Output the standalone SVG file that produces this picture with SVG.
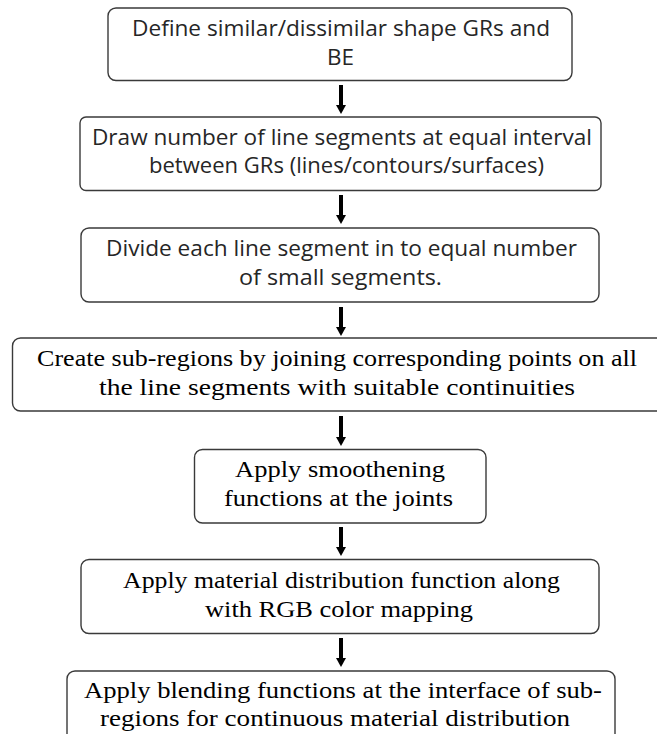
<svg xmlns="http://www.w3.org/2000/svg" width="657" height="734" viewBox="0 0 657 734">
<defs>
<style>
.box{fill:#fff;stroke:#3a3a3a;stroke-width:1.4}
.s{font-family:"Open Sans","DejaVu Sans",sans-serif;font-size:21px;fill:#262626}
.r{font-family:"Liberation Serif","Times New Roman",serif;font-size:23px;fill:#000}
.arr{stroke:#000;stroke-width:4}
.head{fill:#000}
</style>
</defs>
<rect width="657" height="734" fill="#fff"/>
<g id="connectors">
<line class="arr" x1="341" y1="85" x2="341" y2="106"/><polygon class="head" points="336,105 346,105 341,114"/>
<line class="arr" x1="341" y1="195" x2="341" y2="216"/><polygon class="head" points="336,215 346,215 341,224"/>
<line class="arr" x1="341" y1="307" x2="341" y2="328"/><polygon class="head" points="336,327 346,327 341,336"/>
<line class="arr" x1="341" y1="416" x2="341" y2="438"/><polygon class="head" points="336,437 346,437 341,446"/>
<line class="arr" x1="341" y1="527" x2="341" y2="548"/><polygon class="head" points="336,547 346,547 341,556"/>
<line class="arr" x1="341" y1="638" x2="341" y2="659"/><polygon class="head" points="336,658 346,658 341,667"/>
</g>
<g id="n1">
<rect class="box" x="108" y="8" width="464" height="72.5" rx="8"/>
<text class="s" x="132" y="36" textLength="418" lengthAdjust="spacingAndGlyphs">Define similar/dissimilar shape GRs and</text>
<text class="s" x="327" y="65" textLength="27" lengthAdjust="spacingAndGlyphs">BE</text>
</g>
<g id="n2">
<rect class="box" x="80" y="117" width="521" height="73.5" rx="6"/>
<text class="s" x="92" y="145" textLength="500" lengthAdjust="spacingAndGlyphs">Draw number of line segments at equal interval</text>
<text class="s" x="149" y="173" textLength="395" lengthAdjust="spacingAndGlyphs">between GRs (lines/contours/surfaces)</text>
</g>
<g id="n3">
<rect class="box" x="81" y="228" width="518" height="74" rx="8"/>
<text class="s" x="106" y="256" textLength="471" lengthAdjust="spacingAndGlyphs">Divide each line segment in to equal number</text>
<text class="s" x="239" y="285" textLength="203" lengthAdjust="spacingAndGlyphs">of small segments.</text>
</g>
<g id="n4">
<rect class="box" x="12.5" y="338" width="660" height="73" rx="8"/>
<text class="r" x="37" y="366" textLength="600" lengthAdjust="spacingAndGlyphs">Create sub-regions by joining corresponding points on all</text>
<text class="r" x="99" y="395" textLength="476" lengthAdjust="spacingAndGlyphs">the line segments with suitable continuities</text>
</g>
<g id="n5">
<rect class="box" x="194.5" y="449.5" width="291.5" height="73.5" rx="8"/>
<text class="r" x="235" y="477" textLength="210" lengthAdjust="spacingAndGlyphs">Apply smoothening</text>
<text class="r" x="224" y="506" textLength="229" lengthAdjust="spacingAndGlyphs">functions at the joints</text>
</g>
<g id="n6">
<rect class="box" x="81" y="559.5" width="518" height="74" rx="8"/>
<text class="r" x="123" y="588" textLength="437" lengthAdjust="spacingAndGlyphs">Apply material distribution function along</text>
<text class="r" x="205" y="617" textLength="268" lengthAdjust="spacingAndGlyphs">with RGB color mapping</text>
</g>
<g id="n7">
<rect class="box" x="67" y="671" width="548" height="90" rx="8"/>
<text class="r" x="84" y="698" textLength="518" lengthAdjust="spacingAndGlyphs">Apply blending functions at the interface of sub-</text>
<text class="r" x="100" y="726" textLength="470" lengthAdjust="spacingAndGlyphs">regions for continuous material distribution</text>
</g>
</svg>
